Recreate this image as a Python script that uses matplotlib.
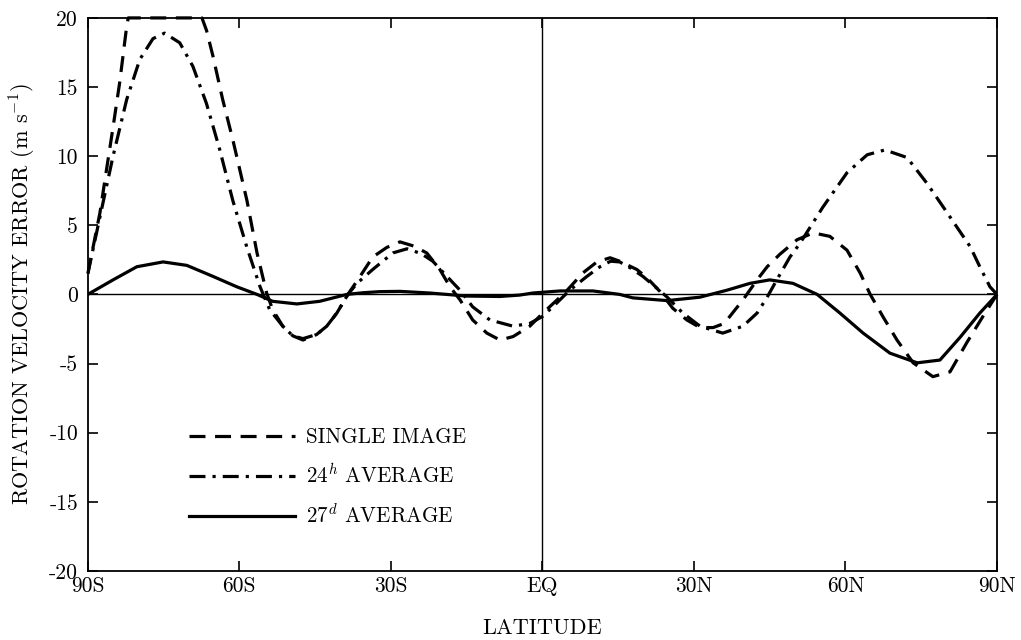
import matplotlib
matplotlib.use("Agg")
import matplotlib.pyplot as plt

plt.rcParams['font.family'] = ['cmr10', 'DejaVu Serif']
plt.rcParams['mathtext.fontset'] = 'cm'
plt.rcParams['axes.unicode_minus'] = False

# single image (dashed)
lat_single = [-90, -87.6, -86.6, -85, -83.7, -82.3, -82, -67.4, -66.5, -65.2, -63.3, -61.3,
              -58.5, -56.5, -54.6, -53.4, -51.4, -49.4, -47.4, -44.7, -42.7, -40.7, -38.5,
              -36.1, -33.6, -30.8, -28.2, -25.5, -22.9, -20.3, -18.3, -16.3, -13.8, -11,
              -8.4, -5.8, -2.5, 0.1, 2.9, 4.9, 8.0, 10.8, 13.4, 15.3, 18.7, 20.7, 23.3,
              25.8, 28.6, 31.2, 33.8, 36, 39.7, 42.5, 44.5, 47, 50.4, 53.6, 56.9, 60.3,
              62.9, 64.9, 67.4, 70.2, 73.4, 77.3, 80.7, 84, 87.2, 90]
val_single = [1.5, 5.9, 8.3, 12.1, 15.3, 19.4, 20, 20, 19.1, 17.2, 14.1, 11.2,
              6.8, 3.0, 0.1, -1.1, -2.3, -3.0, -3.3, -2.9, -2.3, -1.35, 0,
              1.3, 2.7, 3.4, 3.8, 3.5, 3.0, 1.8, 0.55, -0.4, -1.85, -2.8,
              -3.3, -3.05, -2.3, -1.35, -0.4, 0.3, 1.55, 2.35, 2.65, 2.4, 1.8, 1.2, 0.2,
              -1.0, -1.85, -2.4, -2.4, -2.1, -0.4, 1.05, 2.0, 2.9, 3.95, 4.45, 4.2, 3.2,
              1.55, 0, -1.6, -3.3, -4.95, -5.95, -5.6, -3.5, -1.6, 0]

# 24h average (dash-dot)
lat_24h = [-90, -87.6, -85, -82.3, -79.7, -77.1, -74.8, -71.8, -69.2, -66.5, -63.9, -61.3,
           -58.5, -55.9, -54, -51.4, -49.4, -47.4, -44.7, -42.7, -40.7, -38.5, -36.7,
           -33.6, -29.6, -26.8, -24, -21.7, -18.9, -16.3, -13.8, -10.4, -5.8, -2.5, 0,
           2.9, 5.4, 8.8, 11.4, 13.5, 15.3, 17.5, 19.9, 22.5, 24.7, 27.8, 31.2, 35.7,
           39.7, 42.5, 44.5, 46.4, 49, 51, 55.5, 60.3, 64.3, 67.8, 72.2, 76.1, 79.4,
           82, 84.7, 86.6, 88.6, 90]
val_24h = [1.5, 5.6, 10, 14.1, 17, 18.5, 18.9, 18.2, 16.5, 13.8, 10.5, 6.8,
           3.4, 0.55, -1.1, -2.3, -3.0, -3.2, -2.9, -2.3, -1.35, 0, 0.8,
           1.8, 3.0, 3.3, 2.95, 2.4, 1.3, 0.3, -0.9, -1.85, -2.3, -2.1, -1.6,
           -0.6, 0.3, 1.3, 2.0, 2.4, 2.35, 1.9, 1.3, 0.5, -0.2, -1.35, -2.3, -2.8,
           -2.3, -1.35, -0.2, 1.05, 2.7, 3.7, 6.3, 8.8, 10.1, 10.45, 9.9, 8.05, 6.3,
           4.9, 3.45, 2.0, 0.55, 0]

# 27d average (solid)
lat_27d = [-90, -85, -80.3, -75.1, -70.4, -65.2, -60.5, -56.5, -53.4, -48.6, -44.1, -38.7,
           -35.5, -32.2, -28.2, -22.3, -15, -8.4, -4.5, -1.9, 3.5, 10, 15.3, 17.9,
           24.7, 31.2, 36.5, 41.1, 45, 49.6, 54.4, 58.9, 63.5, 68.8, 74.2, 78.7,
           82.7, 86.6, 90]
val_27d = [0, 1.05, 2.0, 2.35, 2.1, 1.3, 0.55, 0, -0.5, -0.69, -0.5, 0,
           0.12, 0.2, 0.22, 0.1, -0.12, -0.15, -0.05, 0.1, 0.25, 0.25, 0.0, -0.25,
           -0.45, -0.2, 0.3, 0.8, 1.05, 0.8, 0, -1.35, -2.8, -4.25, -4.95, -4.75,
           -3.1, -1.35, 0]

xticks = [-90, -60, -30, 0, 30, 60, 90]
xticklabels = ['90S', '60S', '30S', 'EQ', '30N', '60N', '90N']
yticks = [-20, -15, -10, -5, 0, 5, 10, 15, 20]

fig = plt.figure(figsize=(10.21, 6.4), dpi=100)
ax = fig.add_axes([0.086, 0.108, 0.8905, 0.864])

ax.axhline(0, color='black', lw=1.0)
ax.axvline(0, color='black', lw=1.0)

lw = 2.3
ax.plot(lat_single, val_single, color='black', lw=lw, dashes=(5.0, 3.0),
        clip_on=False, label='SINGLE IMAGE')
ax.plot(lat_24h, val_24h, color='black', lw=lw, dashes=(5.0, 2.2, 1.0, 2.2),
        label='$24^h$ AVERAGE')
ax.plot(lat_27d, val_27d, color='black', lw=lw, label='$27^d$ AVERAGE')

ax.set_xlim(-90, 90)
ax.set_ylim(-20, 20)
ax.set_xticks(xticks)
ax.set_xticklabels(xticklabels)
ax.set_yticks(yticks)
ax.set_yticklabels([str(v) for v in yticks])
ax.tick_params(direction='in', top=True, right=True, length=7, width=1.2,
               labelsize=15.5, pad=7)
ax.tick_params(axis='x', pad=4)
for s in ax.spines.values():
    s.set_linewidth(1.3)

ax.set_xlabel('LATITUDE', fontsize=16, labelpad=16)
ax.set_ylabel('ROTATION VELOCITY ERROR (m s$^{-1}$)', fontsize=16, labelpad=8)

ax.legend(loc='upper left', bbox_to_anchor=(0.1, 0.278), frameon=False,
          handlelength=5.0, handletextpad=0.55, labelspacing=0.75, fontsize=15.2,
          borderpad=0)

fig.savefig('out.png', dpi=100)
